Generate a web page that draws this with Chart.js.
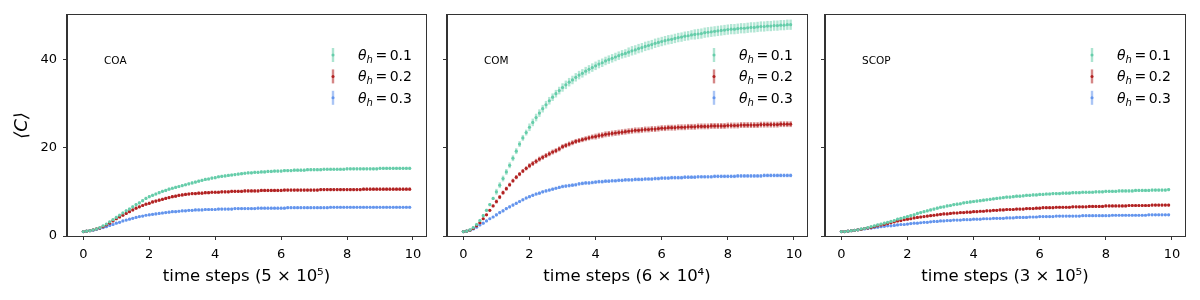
<!DOCTYPE html>
<html>
<head>
<meta charset="utf-8">
<script src="https://cdn.jsdelivr.net/npm/chart.js@4.4.0/dist/chart.umd.min.js"></script>
<style>
  body { margin: 0; background: #fff; }
  #wrap { position: relative; width: 1200px; height: 300px; }
  canvas { position: absolute; top: 0; }
</style>
</head>
<body>
<div id="wrap">
  <canvas id="coa" width="440" height="300" style="left:0px"></canvas>
  <canvas id="com" width="380" height="300" style="left:440px"></canvas>
  <canvas id="scop" width="390" height="300" style="left:810px"></canvas>
</div>
<script>
// time axis (in units of the panel's step size)
const steps = [
  0.0,0.1,0.2,0.3,0.4,0.5,0.6,0.7,0.8,0.9,
  1.0,1.1,1.2,1.3,1.4,1.5,1.6,1.7,1.8,1.9,
  2.0,2.1,2.2,2.3,2.4,2.5,2.6,2.7,2.8,2.9,
  3.0,3.1,3.2,3.3,3.4,3.5,3.6,3.7,3.8,3.9,
  4.0,4.1,4.2,4.3,4.4,4.5,4.6,4.7,4.8,4.9,
  5.0,5.1,5.2,5.3,5.4,5.5,5.6,5.7,5.8,5.9,
  6.0,6.1,6.2,6.3,6.4,6.5,6.6,6.7,6.8,6.9,
  7.0,7.1,7.2,7.3,7.4,7.5,7.6,7.7,7.8,7.9,
  8.0,8.1,8.2,8.3,8.4,8.5,8.6,8.7,8.8,8.9,
  9.0,9.1,9.2,9.3,9.4,9.5,9.6,9.7,9.8,9.9
];

const thetaLabels = ['0.1', '0.2', '0.3'];
const panelNames = ['COA', 'COM', 'SCOP'];
const stepUnits = ['5 × 10⁵', '6 × 10⁴', '3 × 10⁵'];
const xTicks = [0, 2, 4, 6, 8, 10];
const yTicks = [0, 20, 40];

// COA
const coa01 = [
  1.0,1.1,1.2,1.4,1.6,1.9,2.3,2.7,3.2,3.7,
  4.2,4.7,5.2,5.7,6.1,6.6,7.1,7.5,8.0,8.5,
  8.9,9.2,9.5,9.8,10.1,10.3,10.6,10.8,11.0,11.2,
  11.4,11.6,11.8,12.0,12.2,12.4,12.6,12.8,12.9,13.1,
  13.2,13.4,13.5,13.6,13.7,13.8,13.9,14.0,14.1,14.2,
  14.3,14.3,14.4,14.4,14.5,14.5,14.6,14.6,14.7,14.7,
  14.7,14.8,14.8,14.8,14.9,14.9,14.9,14.9,15.0,15.0,
  15.0,15.0,15.0,15.1,15.1,15.1,15.1,15.1,15.1,15.1,
  15.2,15.2,15.2,15.2,15.2,15.2,15.2,15.2,15.2,15.2,
  15.3,15.3,15.3,15.3,15.3,15.3,15.3,15.3,15.3,15.3
];
const coa02 = [
  1.0,1.1,1.2,1.4,1.6,1.8,2.1,2.5,2.9,3.4,
  3.9,4.3,4.7,5.1,5.5,5.9,6.3,6.6,6.9,7.2,
  7.4,7.7,7.9,8.1,8.3,8.5,8.7,8.9,9.0,9.2,
  9.3,9.4,9.5,9.6,9.6,9.7,9.7,9.8,9.8,9.9,
  9.9,9.9,10.0,10.0,10.0,10.1,10.1,10.1,10.1,10.2,
  10.2,10.2,10.2,10.2,10.3,10.3,10.3,10.3,10.3,10.3,
  10.3,10.4,10.4,10.4,10.4,10.4,10.4,10.4,10.4,10.4,
  10.4,10.4,10.5,10.5,10.5,10.5,10.5,10.5,10.5,10.5,
  10.5,10.5,10.5,10.5,10.5,10.6,10.6,10.6,10.6,10.6,
  10.6,10.6,10.6,10.6,10.6,10.6,10.6,10.6,10.6,10.6
];
const coa03 = [
  1.0,1.1,1.2,1.3,1.5,1.7,1.9,2.1,2.4,2.6,
  2.9,3.1,3.4,3.6,3.8,4.0,4.2,4.4,4.5,4.7,
  4.8,4.9,5.0,5.1,5.2,5.3,5.4,5.5,5.5,5.6,
  5.7,5.7,5.8,5.8,5.9,5.9,5.9,6.0,6.0,6.0,
  6.0,6.1,6.1,6.1,6.1,6.1,6.2,6.2,6.2,6.2,
  6.2,6.2,6.2,6.3,6.3,6.3,6.3,6.3,6.3,6.3,
  6.3,6.3,6.4,6.4,6.4,6.4,6.4,6.4,6.4,6.4,
  6.4,6.4,6.4,6.4,6.4,6.5,6.5,6.5,6.5,6.5,
  6.5,6.5,6.5,6.5,6.5,6.5,6.5,6.5,6.5,6.5,
  6.5,6.5,6.5,6.5,6.5,6.5,6.5,6.5,6.5,6.5
];

// COM
const com01 = [
  1.0,1.1,1.4,1.9,2.6,3.5,4.6,5.8,7.1,8.5,
  10.0,11.5,13.0,14.5,16.0,17.6,19.2,20.8,22.2,23.4,
  24.6,25.7,26.8,27.8,28.8,29.7,30.6,31.4,32.2,32.9,
  33.6,34.2,34.8,35.3,35.9,36.4,36.8,37.3,37.7,38.1,
  38.5,38.9,39.2,39.6,39.9,40.2,40.5,40.8,41.1,41.3,
  41.6,41.9,42.1,42.4,42.6,42.9,43.1,43.3,43.6,43.8,
  44.0,44.2,44.4,44.5,44.7,44.9,45.0,45.2,45.3,45.5,
  45.6,45.7,45.8,46.0,46.1,46.2,46.3,46.4,46.5,46.6,
  46.7,46.8,46.8,46.9,47.0,47.0,47.1,47.2,47.2,47.3,
  47.4,47.4,47.5,47.5,47.6,47.6,47.7,47.7,47.8,47.8
];
const com02 = [
  1.0,1.1,1.3,1.7,2.3,3.0,3.9,4.8,5.8,6.8,
  7.8,8.8,9.8,10.7,11.6,12.5,13.3,14.0,14.7,15.3,
  15.9,16.4,16.9,17.4,17.8,18.2,18.6,19.0,19.3,19.7,
  20.2,20.5,20.8,21.1,21.4,21.6,21.8,22.0,22.2,22.4,
  22.5,22.7,22.8,23.0,23.1,23.2,23.3,23.4,23.5,23.6,
  23.7,23.8,23.9,23.9,24.0,24.1,24.1,24.2,24.2,24.3,
  24.4,24.4,24.5,24.5,24.5,24.6,24.6,24.6,24.7,24.7,
  24.7,24.8,24.8,24.8,24.8,24.9,24.9,24.9,24.9,24.9,
  25.0,25.0,25.0,25.0,25.1,25.1,25.1,25.1,25.1,25.1,
  25.2,25.2,25.2,25.2,25.2,25.2,25.3,25.3,25.3,25.3
];
const com03 = [
  1.0,1.1,1.3,1.6,2.0,2.5,2.9,3.4,3.9,4.3,
  4.8,5.3,5.7,6.2,6.6,7.0,7.4,7.8,8.2,8.6,
  8.9,9.2,9.5,9.7,10.0,10.2,10.4,10.6,10.8,11.0,
  11.2,11.3,11.4,11.5,11.6,11.8,11.9,12.0,12.0,12.1,
  12.2,12.3,12.3,12.4,12.4,12.5,12.5,12.6,12.6,12.7,
  12.7,12.7,12.8,12.8,12.8,12.9,12.9,12.9,13.0,13.0,
  13.1,13.1,13.1,13.2,13.2,13.2,13.2,13.3,13.3,13.3,
  13.3,13.4,13.4,13.4,13.4,13.4,13.5,13.5,13.5,13.5,
  13.5,13.5,13.5,13.6,13.6,13.6,13.6,13.6,13.6,13.6,
  13.6,13.7,13.7,13.7,13.7,13.7,13.7,13.7,13.7,13.7
];

// SCOP
const scop01 = [
  1.0,1.0,1.1,1.2,1.3,1.4,1.6,1.7,1.9,2.1,
  2.3,2.5,2.7,2.9,3.1,3.3,3.5,3.8,4.0,4.2,
  4.4,4.6,4.8,5.1,5.3,5.5,5.7,5.9,6.1,6.3,
  6.5,6.6,6.8,6.9,7.1,7.2,7.3,7.5,7.6,7.7,
  7.8,7.9,8.0,8.1,8.2,8.3,8.4,8.5,8.6,8.7,
  8.8,8.8,8.9,9.0,9.0,9.1,9.2,9.2,9.3,9.3,
  9.4,9.4,9.5,9.5,9.6,9.6,9.6,9.7,9.7,9.7,
  9.8,9.8,9.8,9.9,9.9,9.9,9.9,10.0,10.0,10.0,
  10.1,10.1,10.1,10.1,10.2,10.2,10.2,10.2,10.2,10.3,
  10.3,10.3,10.3,10.3,10.4,10.4,10.4,10.4,10.4,10.5
];
const scop02 = [
  1.0,1.0,1.1,1.2,1.3,1.4,1.5,1.7,1.8,1.9,
  2.1,2.3,2.5,2.6,2.8,3.0,3.2,3.4,3.5,3.7,
  3.8,3.9,4.1,4.2,4.3,4.4,4.5,4.6,4.7,4.8,
  4.9,5.0,5.0,5.1,5.2,5.2,5.3,5.3,5.4,5.4,
  5.5,5.5,5.6,5.6,5.7,5.7,5.8,5.8,5.9,5.9,
  6.0,6.0,6.0,6.1,6.1,6.1,6.2,6.2,6.2,6.3,
  6.3,6.4,6.4,6.4,6.4,6.5,6.5,6.5,6.5,6.5,
  6.6,6.6,6.6,6.6,6.6,6.7,6.7,6.7,6.7,6.7,
  6.8,6.8,6.8,6.8,6.8,6.8,6.8,6.9,6.9,6.9,
  6.9,6.9,6.9,6.9,7.0,7.0,7.0,7.0,7.0,7.0
];
const scop03 = [
  1.0,1.0,1.1,1.2,1.3,1.4,1.5,1.6,1.7,1.8,
  1.9,2.0,2.1,2.2,2.3,2.3,2.4,2.5,2.6,2.6,
  2.7,2.8,2.9,2.9,3.0,3.1,3.1,3.2,3.3,3.3,
  3.4,3.4,3.5,3.5,3.6,3.6,3.6,3.7,3.7,3.7,
  3.8,3.8,3.8,3.9,3.9,3.9,4.0,4.0,4.0,4.0,
  4.1,4.1,4.1,4.2,4.2,4.2,4.2,4.3,4.3,4.3,
  4.4,4.4,4.4,4.4,4.4,4.5,4.5,4.5,4.5,4.5,
  4.5,4.5,4.5,4.6,4.6,4.6,4.6,4.6,4.6,4.6,
  4.6,4.6,4.7,4.7,4.7,4.7,4.7,4.7,4.7,4.7,
  4.7,4.7,4.7,4.8,4.8,4.8,4.8,4.8,4.8,4.8
];

// standard errors, one value per unit of time (0-1, 1-2, ... 9-10)
const coaErr01 = [0.1,0.2,0.2,0.2,0.2,0.2,0.2,0.2,0.2,0.2];
const coaErr02 = [0.1,0.15,0.2,0.2,0.2,0.2,0.2,0.2,0.2,0.2];
const coaErr03 = [0.1,0.1,0.15,0.15,0.15,0.15,0.15,0.15,0.15,0.15];
const comErr01 = [0.2,0.5,0.7,0.8,0.8,0.9,0.9,1.0,1.0,1.0];
const comErr02 = [0.1,0.3,0.4,0.4,0.5,0.5,0.5,0.5,0.5,0.5];
const comErr03 = [0.1,0.2,0.2,0.25,0.25,0.25,0.25,0.25,0.25,0.25];
const scopErr01 = [0.1,0.15,0.2,0.2,0.2,0.2,0.2,0.2,0.2,0.2];
const scopErr02 = [0.1,0.15,0.15,0.15,0.15,0.15,0.15,0.15,0.15,0.15];
const scopErr03 = [0.1,0.1,0.1,0.1,0.1,0.1,0.1,0.1,0.1,0.1];

const colors = ['#66cdaa', '#b22222', '#6495ed'];
const FONT = "'DejaVu Sans', sans-serif";

Chart.defaults.font.family = FONT;
Chart.defaults.color = '#000';

function withAlpha(hex, a) {
    const n = parseInt(hex.slice(1), 16);
    return `rgba(${n >> 16},${(n >> 8) & 255},${n & 255},${a})`;
}

const errorBars = {
    id: 'errorBars',
    beforeDatasetsDraw(chart) {
        const ctx = chart.ctx;
        const xs = chart.scales.x, ys = chart.scales.y;
        const a = chart.chartArea;
        ctx.save();
        ctx.beginPath();
        ctx.rect(a.left, a.top, a.right - a.left, a.bottom - a.top);
        ctx.clip();
        chart.data.datasets.forEach(ds => {
            ctx.strokeStyle = withAlpha(ds.backgroundColor, 0.5);
            ctx.lineWidth = 2.4;
            ds.data.forEach((p, j) => {
                const e = ds.errors[Math.floor(j / 10)];
                const x = xs.getPixelForValue(p.x);
                ctx.beginPath();
                ctx.moveTo(x, ys.getPixelForValue(p.y - e) + 0.7);
                ctx.lineTo(x, ys.getPixelForValue(p.y + e) - 0.7);
                ctx.stroke();
            });
        });
        ctx.restore();
    }
};

const frameAndLegend = {
    id: 'frameAndLegend',
    afterDraw(chart) {
        const ctx = chart.ctx;
        const a = chart.chartArea;
        const opts = chart.options.plugins.frameAndLegend;
        ctx.save();
        ctx.strokeStyle = '#333';
        ctx.lineWidth = 1;
        ctx.strokeRect(Math.round(a.left) - 0.5, Math.round(a.top) - 0.5,
            Math.round(a.right - a.left) + 1, Math.round(a.bottom - a.top) + 1);

        // panel name
        ctx.fillStyle = '#000';
        ctx.font = `10.5px ${FONT}`;
        ctx.textBaseline = 'middle';
        ctx.textAlign = 'left';
        ctx.fillText(opts.name, a.left + 37, a.top + 46);

        // legend
        chart.data.datasets.forEach((ds, k) => {
            const y = a.top + 40 + k * 21.4;
            const mx = a.right - 93;
            ctx.strokeStyle = withAlpha(ds.backgroundColor, 0.55);
            ctx.lineWidth = 2.4;
            ctx.beginPath();
            ctx.moveTo(mx, y - 7);
            ctx.lineTo(mx, y + 7);
            ctx.stroke();
            ctx.fillStyle = ds.backgroundColor;
            ctx.beginPath();
            ctx.arc(mx, y, 1.5, 0, Math.PI * 2);
            ctx.fill();

            ctx.fillStyle = '#000';
            ctx.textBaseline = 'alphabetic';
            let tx = a.right - 68;
            const base = y + 5;
            ctx.font = `italic 14px ${FONT}`;
            ctx.fillText('θ', tx, base);
            tx += ctx.measureText('θ').width;
            ctx.font = `italic 10px ${FONT}`;
            ctx.fillText('h', tx, base + 3);
            tx += ctx.measureText('h').width + 2.5;
            ctx.font = `14px ${FONT}`;
            ctx.fillText('=', tx, base);
            tx += ctx.measureText('=').width + 2.5;
            ctx.fillText(thetaLabels[k], tx, base);
        });
        ctx.restore();
    }
};

function makePanel(id, idx, series, errs, yWidth, padRight) {
    const datasets = series.map((vals, k) => ({
        data: steps.map((t, j) => ({ x: t, y: vals[j] })),
        errors: errs[k],
        backgroundColor: colors[k],
        pointRadius: 1.6,
        pointBorderWidth: 0,
        showLine: false
    }));
    const first = idx === 0;
    new Chart(document.getElementById(id).getContext('2d'), {
        type: 'scatter',
        data: { datasets: datasets },
        options: {
            responsive: false,
            animation: false,
            events: [],
            layout: { padding: { left: 0, right: padRight, top: 15, bottom: 0 } },
            scales: {
                x: {
                    type: 'linear',
                    min: -0.495,
                    max: 10.395,
                    afterBuildTicks: s => { s.ticks = xTicks.map(v => ({ value: v })); },
                    afterFit: s => { s.height = 64; },
                    grid: { drawOnChartArea: false, drawTicks: true, tickLength: 4, color: '#333' },
                    border: { display: true, color: '#333' },
                    ticks: { font: { size: 13 }, padding: 7, maxRotation: 0 },
                    title: {
                        display: true,
                        text: `time steps (${stepUnits[idx]})`,
                        font: { size: 16.5 },
                        padding: { top: 0, bottom: 13 }
                    }
                },
                y: {
                    type: 'linear',
                    min: 0,
                    max: 50,
                    afterBuildTicks: s => { s.ticks = yTicks.map(v => ({ value: v })); },
                    afterFit: s => { s.width = yWidth; },
                    grid: { drawOnChartArea: false, drawTicks: true, tickLength: 4, color: '#333' },
                    border: { display: true, color: '#333' },
                    ticks: {
                        font: { size: 13 },
                        padding: 6,
                        callback: v => first ? String(v) : ''
                    },
                    title: {
                        display: first,
                        text: '⟨C⟩',
                        font: { size: 18, style: 'italic' },
                        padding: { top: 12, bottom: 0 }
                    }
                }
            },
            plugins: {
                legend: { display: false },
                tooltip: { enabled: false },
                frameAndLegend: { name: panelNames[idx] }
            }
        },
        plugins: [errorBars, frameAndLegend]
    });
}

makePanel('coa', 0, [coa01, coa02, coa03], [coaErr01, coaErr02, coaErr03], 67, 14);
makePanel('com', 1, [com01, com02, com03], [comErr01, comErr02, comErr03], 7, 13);
makePanel('scop', 2, [scop01, scop02, scop03], [scopErr01, scopErr02, scopErr03], 15, 15);
</script>
</body>
</html>
